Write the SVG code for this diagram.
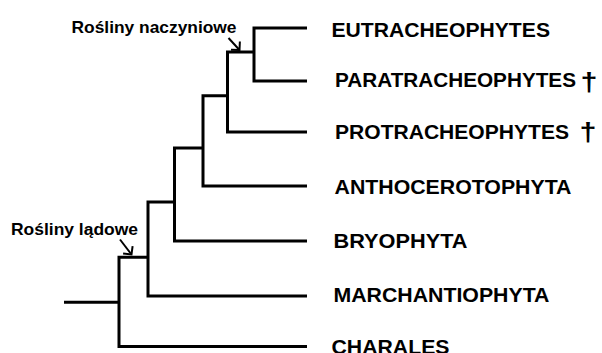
<svg xmlns="http://www.w3.org/2000/svg" width="602" height="353" viewBox="0 0 602 353">
  <defs>
    <marker id="arr" viewBox="-8 -8 10 16" markerWidth="10" markerHeight="16" markerUnits="userSpaceOnUse" refX="0" refY="0" orient="auto">
      <path d="M-6,-6 L0,0 L-6,6" fill="none" stroke="#000" stroke-width="2"/>
    </marker>
    <style>
      .br { fill: none; stroke: #000; stroke-width: 3; stroke-linejoin: miter; stroke-linecap: butt; }
      .ar { fill: none; stroke: #000; stroke-width: 2; marker-end: url(#arr); }
      .tip { font-family: "Liberation Sans", Arial, sans-serif; font-weight: bold; font-size: 19.5px; fill: #000; }
      .lbl { font-family: "Liberation Sans", Arial, sans-serif; font-weight: bold; font-size: 16.5px; fill: #000; }
      .dag { font-family: "Liberation Sans", Arial, sans-serif; font-weight: bold; font-size: 26px; fill: #000; }
    </style>
  </defs>
  <rect width="602" height="353" fill="#fff"/>
  <g id="connectors">
    <path class="br" d="M307 28 H254 V81 H307"/>
    <path class="br" d="M254 52 H227.5 V132 H307"/>
    <path class="br" d="M227.5 95.7 H203 V186 H307"/>
    <path class="br" d="M203 148 H174.5 V241 H307"/>
    <path class="br" d="M174.5 202 H148 V296 H307"/>
    <path class="br" d="M148 257.3 H119 V346.5 H307"/>
    <path class="br" d="M119 302.3 H64"/>
    <path class="ar" d="M228.5 38 L239.5 50"/>
    <path class="ar" d="M120 239.5 L131.5 254.5"/>
  </g>
  <g id="label-naczyniowe"><text class="lbl" x="71.5" y="32.7" textLength="165" lengthAdjust="spacingAndGlyphs">Rośliny naczyniowe</text></g>
  <g id="label-ladowe"><text class="lbl" x="11" y="235" textLength="127" lengthAdjust="spacingAndGlyphs">Rośliny lądowe</text></g>
  <g id="eutracheophytes"><text class="tip" x="331.5" y="36.7" textLength="218.5" lengthAdjust="spacingAndGlyphs">EUTRACHEOPHYTES</text></g>
  <g id="paratracheophytes"><text class="tip" x="335" y="86.7" textLength="241" lengthAdjust="spacingAndGlyphs">PARATRACHEOPHYTES</text><text class="dag" x="580.5" y="91" textLength="17" lengthAdjust="spacingAndGlyphs">†</text></g>
  <g id="protracheophytes"><text class="tip" x="335" y="139.3" textLength="234" lengthAdjust="spacingAndGlyphs">PROTRACHEOPHYTES</text><text class="dag" x="579.5" y="140.5" textLength="17" lengthAdjust="spacingAndGlyphs">†</text></g>
  <g id="anthocerotophyta"><text class="tip" x="334.5" y="194" textLength="237" lengthAdjust="spacingAndGlyphs">ANTHOCEROTOPHYTA</text></g>
  <g id="bryophyta"><text class="tip" x="333.5" y="248.3" textLength="134" lengthAdjust="spacingAndGlyphs">BRYOPHYTA</text></g>
  <g id="marchantiophyta"><text class="tip" x="333.5" y="302.3" textLength="216" lengthAdjust="spacingAndGlyphs">MARCHANTIOPHYTA</text></g>
  <g id="charales"><text class="tip" x="331.5" y="353.5" textLength="118" lengthAdjust="spacingAndGlyphs">CHARALES</text></g>
</svg>
